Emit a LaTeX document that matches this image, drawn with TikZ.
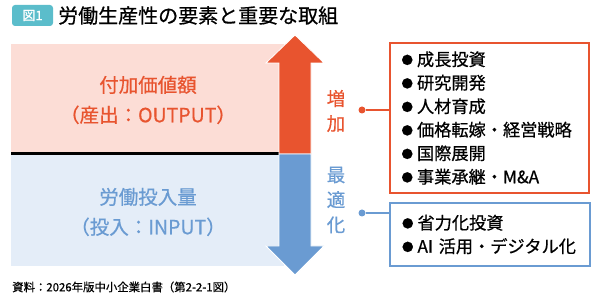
\documentclass[tikz,border=0pt]{standalone}
\usepackage{fontspec}
\setmainfont{Noto Sans CJK JP}[FakeBold=0.6]
\usetikzlibrary{positioning,calc}
\definecolor{outred}{HTML}{E8542F}
\definecolor{outpink}{HTML}{FCDDD6}
\definecolor{inblue}{HTML}{6A9BD2}
\definecolor{inpale}{HTML}{E4EDF8}
\definecolor{badge}{HTML}{5BBDCB}
\newcommand{\blt}{\raisebox{1.5pt}{\fontsize{11.5}{11.5}\selectfont ●}\hspace{4pt}}

\begin{document}
\begin{tikzpicture}[
  x=1pt, y=-1pt,
  ttl/.style={font=\fontsize{20}{20}\selectfont, anchor=west, inner sep=0pt},
  big/.style={font=\fontsize{19.5}{30}\selectfont, align=center, inner sep=0pt},
  vert/.style={font=\fontsize{18.5}{25}\selectfont, align=center, inner sep=0pt},
  listbox/.style={draw=#1, line width=1.6pt, fill=white, align=left,
    font=\fontsize{17.2}{23.5}\selectfont, text width=176pt, inner sep=0pt},
  link/.style={draw=#1, line width=1.6pt},
  dotmark/.style={circle, fill=#1, inner sep=0pt, minimum size=7pt}
]
\path[use as bounding box] (0,0) rectangle (600,304);

% title
\node[fill=badge, rounded corners=3pt, minimum width=41pt, minimum height=21pt,
  inner sep=0pt, text=white, font=\fontsize{13}{13}\selectfont] (fig) at (32.5,15.5) {図1};
\node[ttl] (title) at (58,15.5) {労働生産性の要素と重要な取組};

% output / input panels
\fill[outpink] (11,44) rectangle (284,154);
\fill[inpale] (11,154) rectangle (284,266);
\draw[black, line width=2.4pt] (11,153.5) -- (280,153.5);
\node[big, text=outred] (outtxt) at (148,100) {付加価値額\\（産出：OUTPUT）};
\node[big, text=inblue] (intxt) at (148,212) {労働投入量\\（投入：INPUT）};

% double arrow
\filldraw[fill=outred, draw=white, line width=0.8pt]
  (279,154) -- (279,63) -- (266,63) -- (295,35) -- (324,63) -- (311,63) -- (311,154) -- cycle;
\filldraw[fill=inblue, draw=white, line width=0.8pt]
  (279,154) -- (279,246) -- (266,246) -- (295,275) -- (324,246) -- (311,246) -- (311,154) -- cycle;

\node[vert, text=outred] (up) at (336,111) {増\\加};
\node[vert, text=inblue] (down) at (336,200) {最\\適\\化};

% lists
\node[listbox=outred, minimum width=199pt, minimum height=150pt] (grow) at (489.5,118)
  {\blt 成長投資\\\blt 研究開発\\\blt 人材育成\\\blt 価格転嫁・経営戦略\\\blt 国際展開\\\blt 事業承継・M\&A};
\node[listbox=inblue, minimum width=200pt, minimum height=63pt] (opt) at (490,234.5)
  {\blt 省力化投資\\\blt AI 活用・デジタル化};

\node[dotmark=outred] (dotup) at (362,110) {};
\node[dotmark=inblue] (dotdown) at (362,213) {};
\draw[link=outred] (dotup) -- (dotup -| grow.west);
\draw[link=inblue] (dotdown) -- (dotdown -| opt.west);

% source
\node[anchor=west, inner sep=0pt, font=\fontsize{11.4}{11.4}\selectfont] (src) at (12,287)
  {資料：2026年版中小企業白書（第2-2-1図）};
\end{tikzpicture}
\end{document}
